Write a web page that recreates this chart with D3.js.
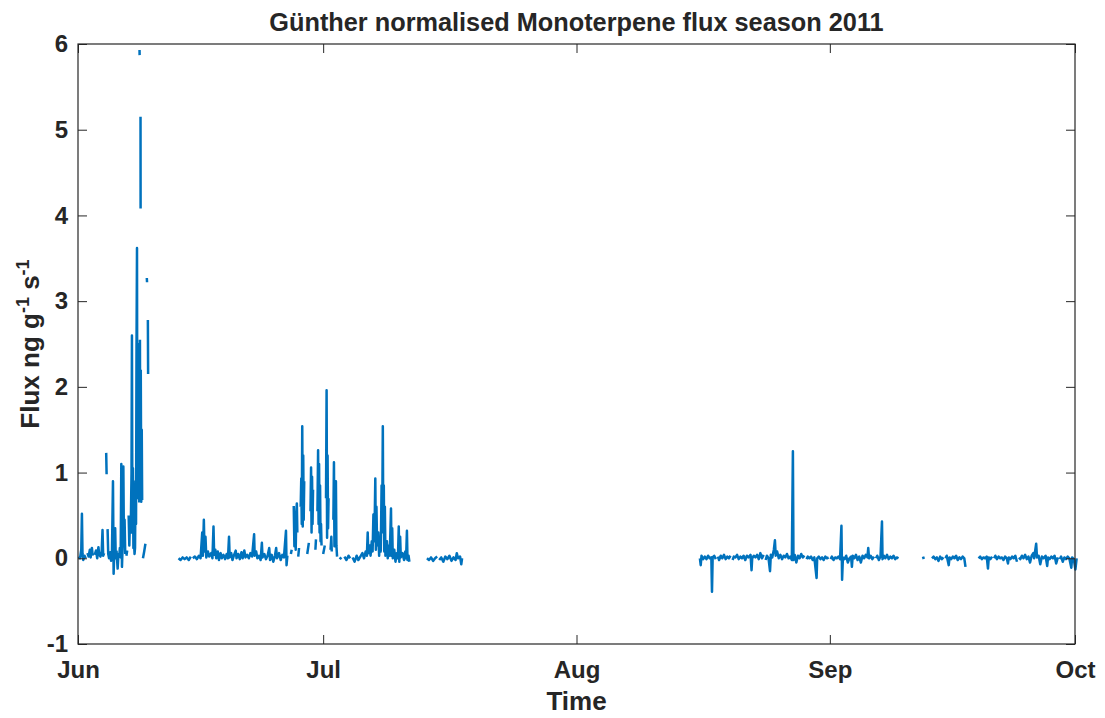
<!DOCTYPE html>
<html>
<head>
<meta charset="utf-8">
<script src="https://cdn.jsdelivr.net/npm/d3@7"></script>
<style>
  html, body { margin: 0; padding: 0; background: #ffffff; }
  svg { display: block; }
  text { font-family: "Liberation Sans", Arial, Helvetica, sans-serif; font-weight: bold; fill: #262626; }
</style>
</head>
<body>
<svg id="chart" width="1105" height="718"></svg>
<script>
// Günther-normalised monoterpene flux, season 2011.
// Each entry is [days since 1 June 2011, flux in ng g^-1 s^-1]; null flux marks a data gap.
const earlyJune = [
  [0.10,0.02],[0.25,0.00],[0.40,0.10],[0.48,0.52],[0.55,0.05],[0.65,-0.02],[0.80,0.03],[0.95,0.00],[1.05,null],
  [1.15,0.06],[1.30,0.02],[1.45,0.10],[1.55,0.01],[1.70,0.12],[1.80,0.03],[1.95,null],
  [2.05,0.04],[2.20,0.09],[2.35,0.00],[2.50,0.13],[2.60,0.04],[2.75,0.02],[2.90,0.08],[3.00,0.33],[3.08,0.03],[3.20,0.06],[3.30,null],
  [3.45,1.23],[3.50,0.98],[3.55,null],
  [3.62,0.34],[3.70,0.05],[3.80,0.00],[3.95,0.07],[4.05,-0.03],[4.15,0.04],[4.28,0.90],[4.36,-0.18],[4.45,0.12],[4.55,0.35],
  [4.62,0.00],[4.72,0.08],[4.85,-0.12],[4.95,0.05],[5.05,0.02],[5.12,0.12],[5.22,0.01],[5.30,1.10],[5.38,-0.10],[5.48,0.20],
  [5.55,1.07],[5.62,0.15],[5.70,0.45],[5.78,0.05],[5.85,null],
  [5.92,0.03],[6.02,0.09],[6.10,null],
  [6.20,0.50],[6.28,0.15],[6.36,0.45],[6.45,0.30],[6.55,1.00],[6.60,2.60],[6.66,0.30],[6.72,1.05],[6.78,0.12],[6.85,0.20],
  [6.92,0.05],[6.98,0.12],[7.04,0.90],[7.10,0.40],[7.16,2.45],[7.22,3.62],[7.26,0.95],[7.32,2.50],[7.38,0.70],[7.44,2.40],
  [7.50,0.65],[7.52,null],[7.53,5.93],[7.54,5.87],[7.55,null],[7.58,2.55],[7.62,0.70],[7.64,null],[7.65,5.15],[7.66,4.08],[7.67,null],
  [7.68,2.20],[7.74,0.66],[7.80,1.50],[7.85,0.68],[7.88,null],
  [7.95,0.00],[8.10,0.08],[8.25,0.17],[8.30,null],
  [8.42,3.27],[8.45,3.22],[8.47,null],
  [8.55,2.78],[8.58,2.15]
];

const lateJuneJuly = [
  [12.30,0.00],[12.55,-0.02],[12.80,0.01],[13.05,-0.01],[13.30,0.01],[13.55,-0.02],[13.80,0.02],[13.95,null],
  [14.05,0.00],[14.30,0.02],[14.55,-0.01],[14.80,0.03],[15.00,0.00],[15.20,0.30],[15.28,0.03],[15.40,0.45],[15.48,0.08],[15.60,0.25],
  [15.70,0.01],[15.90,0.08],[16.05,0.02],[16.30,0.06],[16.45,0.00],[16.58,0.37],[16.66,0.04],[16.80,0.10],[16.92,0.00],[17.10,0.08],
  [17.25,-0.02],[17.45,0.06],[17.60,0.00],[17.80,0.04],[18.00,-0.01],[18.20,0.05],[18.35,0.00],[18.48,0.25],[18.56,0.01],[18.75,0.06],
  [18.90,-0.02],[19.10,0.04],[19.30,0.09],[19.40,0.00],[19.60,0.05],[19.80,-0.01],[20.00,0.07],[20.15,0.00],[20.35,0.09],[20.50,0.01],
  [20.70,0.04],[20.90,0.00],[21.10,0.06],[21.30,0.02],[21.55,0.28],[21.62,0.03],[21.80,0.08],[21.95,0.00],[22.15,0.03],[22.35,-0.02],
  [22.50,0.18],[22.58,0.01],[22.80,0.05],[23.00,-0.01],[23.20,0.03],[23.40,0.12],[23.50,-0.02],[23.70,0.04],[23.90,-0.04],[24.10,0.03],
  [24.25,0.12],[24.35,0.00],[24.60,0.06],[24.80,-0.02],[25.00,0.04],[25.20,0.01],[25.45,0.32],[25.52,-0.08],[25.62,0.03],[25.75,null],
  [26.05,0.05],[26.15,0.10],[26.20,null],
  [26.40,0.61],[26.48,0.14],[26.56,0.40],[26.64,0.10],[26.72,0.55],[26.78,0.64],[26.84,0.30],[26.90,null],
  [26.95,0.02],[27.05,0.12],[27.10,null],
  [27.25,0.60],[27.32,0.93],[27.38,0.40],[27.44,1.54],[27.50,0.37],[27.56,1.20],[27.62,0.45],[27.68,0.90],[27.74,null],
  [28.05,0.05],[28.25,0.18],[28.30,null],
  [28.45,0.55],[28.52,1.06],[28.58,0.30],[28.64,0.95],[28.70,0.40],[28.76,0.80],[28.82,null],
  [29.05,0.10],[29.12,0.22],[29.16,null],
  [29.30,0.55],[29.38,1.26],[29.44,0.40],[29.50,1.10],[29.56,0.30],[29.62,0.85],[29.68,0.20],[29.74,0.40],[29.80,0.15],[29.86,null],
  [30.00,0.05],[30.20,0.15],[30.25,null],
  [30.35,0.70],[30.42,1.96],[30.48,0.24],[30.54,1.20],[30.60,0.35],[30.66,0.70],[30.72,null],
  [30.90,0.10],[31.00,0.25],[31.05,0.08],[31.10,null],
  [31.25,0.45],[31.32,1.12],[31.38,0.14],[31.44,0.55],[31.50,0.20],[31.56,0.90],[31.62,0.15],[31.70,0.02],[31.80,null],
  [32.00,0.01],[32.25,-0.01],[32.40,null],[32.60,0.02],[32.85,-0.02],[33.10,0.03],[33.30,0.00],[33.40,null],[33.60,0.01],[33.85,-0.04],
  [34.10,0.03],[34.30,-0.02],[34.55,0.02],[34.80,0.06],[35.00,0.00],[35.20,0.08],[35.35,0.03],[35.45,0.30],[35.52,0.06],[35.70,0.15],
  [35.80,0.03],[35.95,0.20],[36.05,0.08],[36.15,0.51],[36.22,0.20],[36.30,0.40],[36.38,0.93],[36.45,0.10],[36.52,0.60],[36.60,0.15],
  [36.75,0.30],[36.85,0.03],[36.95,0.25],[37.05,0.08],[37.15,0.85],[37.22,0.35],[37.30,1.54],[37.36,0.30],[37.42,0.85],[37.48,0.08],
  [37.55,0.60],[37.62,0.03],[37.80,0.20],[37.90,0.00],[38.05,0.15],[38.15,0.03],[38.30,0.58],[38.36,0.03],[38.45,0.35],[38.52,0.00],
  [38.70,0.10],[38.85,-0.04],[39.00,0.06],[39.15,0.00],[39.25,0.37],[39.32,-0.04],[39.42,0.25],[39.50,0.01],[39.70,0.06],[39.90,-0.02],
  [40.05,0.08],[40.15,0.00],[40.25,0.32],[40.32,-0.02],[40.45,0.03],[40.55,-0.04],[40.60,null],
  [42.70,0.00],[42.95,-0.02],[43.20,0.01],[43.45,-0.03],[43.70,0.00],[43.95,0.02],[44.10,null],
  [44.20,-0.02],[44.45,0.01],[44.70,-0.04],[44.95,0.02],[45.20,-0.01],[45.45,0.03],[45.70,-0.03],[45.95,0.01],[46.20,-0.02],[46.35,0.06],
  [46.50,0.00],[46.75,0.02],[46.90,-0.07],[47.00,0.00]
];

const lateAugSep = [
  [76.10,0.00],[76.20,-0.08],[76.30,0.03],[76.50,-0.01],[76.70,0.02],[76.90,-0.01],[77.10,0.03],[77.30,0.00],[77.50,0.01],[77.58,-0.39],
  [77.66,0.01],[77.85,0.03],[78.05,-0.01],[78.20,null],
  [78.30,0.02],[78.45,-0.02],[78.65,0.03],[78.85,0.00],[79.05,0.04],[79.25,-0.01],[79.45,0.02],[79.65,0.00],[79.85,0.03],[80.00,null],
  [80.10,-0.02],[80.25,0.02],[80.45,0.01],[80.65,0.04],[80.85,-0.01],[81.05,0.02],[81.25,0.00],[81.45,0.03],[81.65,-0.02],[81.85,0.03],
  [82.05,0.01],[82.30,0.04],[82.42,-0.14],[82.50,0.00],[82.70,0.03],[82.90,0.01],[83.10,0.04],[83.30,-0.01],[83.50,0.06],[83.70,0.00],
  [83.90,0.04],[84.05,null],
  [84.15,-0.02],[84.30,0.03],[84.50,0.00],[84.68,-0.15],[84.78,0.04],[84.95,0.01],[85.15,0.10],[85.28,0.21],[85.38,0.03],[85.55,0.08],
  [85.75,0.00],[85.95,0.04],[86.15,-0.01],[86.35,0.03],[86.55,0.01],[86.75,0.05],[86.95,0.00],[87.15,0.02],[87.35,-0.02],[87.48,1.25],
  [87.55,-0.02],[87.70,0.04],[87.90,-0.05],[88.10,0.03],[88.30,0.00],[88.50,0.05],[88.70,0.01],[88.90,0.03],[89.05,null],
  [89.15,-0.01],[89.30,0.02],[89.50,0.00],[89.70,0.02],[89.90,-0.02],[90.10,0.01],[90.38,-0.23],[90.45,0.00],[90.65,0.02],[90.85,-0.01],
  [91.05,0.01],[91.25,-0.02],[91.45,0.02],[91.65,0.00],[91.85,0.01],[92.00,null],
  [92.10,-0.01],[92.25,0.02],[92.45,-0.02],[92.65,0.01],[92.85,0.00],[93.05,0.02],[93.25,-0.01],[93.42,0.38],[93.50,-0.25],[93.60,0.01],
  [93.80,-0.01],[94.00,0.03],[94.20,-0.05],[94.40,0.00],[94.60,0.02],[94.70,-0.10],[94.80,0.03],[95.00,0.00],[95.20,0.04],[95.40,-0.02],
  [95.60,0.02],[95.80,-0.05],[96.00,0.03],[96.20,0.00],[96.40,0.04],[96.60,0.01],[96.70,0.12],[96.80,0.00],[97.00,0.03],[97.20,-0.01],
  [97.40,0.02],[97.55,null],
  [97.65,0.00],[97.80,0.03],[98.00,-0.02],[98.20,0.02],[98.38,0.43],[98.45,-0.01],[98.60,0.03],[98.80,0.00],[99.00,0.04],[99.20,-0.01],
  [99.40,0.02],[99.60,0.00],[99.80,0.03],[100.00,-0.01],[100.20,0.01],[100.40,0.00],[100.45,null],
  [103.30,0.00],[103.60,0.01],[103.65,null],
  [104.50,0.00],[104.70,0.02],[104.90,-0.01],[105.10,0.01],[105.30,-0.03],[105.50,0.02],[105.70,-0.01],[105.90,0.01],[106.05,null],
  [106.15,0.00],[106.30,0.03],[106.55,-0.08],[106.65,0.01],[106.85,-0.01],[107.05,0.02],[107.25,0.00],[107.45,0.03],[107.65,-0.02],
  [107.85,0.01],[108.05,-0.01],[108.25,0.02],[108.45,0.00],[108.60,-0.10],[108.65,null],
  [110.20,0.00],[110.40,0.02],[110.60,-0.01],[110.80,0.01],[111.00,0.00],[111.20,0.02],[111.35,-0.12],[111.45,0.01],[111.65,-0.01],
  [111.85,0.02],[112.00,null],
  [112.10,0.00],[112.25,0.03],[112.45,-0.01],[112.65,0.02],[112.85,0.00],[113.05,0.01],[113.25,-0.02],[113.45,0.02],[113.65,0.00],
  [113.80,-0.06],[113.90,0.01],[114.10,-0.01],[114.30,0.02],[114.50,0.00],[114.70,0.03],[114.90,-0.04],[115.05,null],
  [115.15,0.01],[115.30,-0.01],[115.50,0.03],[115.70,0.00],[115.90,0.04],[116.10,-0.01],[116.30,0.02],[116.50,-0.05],[116.70,0.03],
  [116.90,0.06],[117.00,0.00],[117.25,0.17],[117.35,0.01],[117.55,0.03],[117.75,-0.07],[117.95,0.02],[118.15,0.00],[118.40,0.03],
  [118.60,-0.09],[118.70,0.01],[118.90,-0.01],[119.10,0.02],[119.30,0.00],[119.50,0.03],[119.70,-0.06],[119.90,0.01],[120.05,null],
  [120.15,-0.01],[120.30,0.02],[120.50,-0.04],[120.70,0.01],[120.90,-0.01],[121.10,0.02],[121.30,0.00],[121.55,-0.11],[121.65,0.01],
  [121.85,-0.01],[122.05,-0.13],[122.20,0.00]
];

const monthTicks = ["2011-06-01", "2011-07-01", "2011-08-01", "2011-09-01", "2011-10-01"];
const fluxTicks = [-1, 0, 1, 2, 3, 4, 5, 6];

const titleText = "Günther normalised Monoterpene flux season 2011";
const xLabel = "Time";

// ---- layout ----
const svg = d3.select("#chart");
const box = { left: 78, top: 44, right: 1075, bottom: 644 };
const seasonStart = Date.UTC(2011, 5, 1);
const dayMs = 864e5;

const x = d3.scaleUtc()
  .domain([new Date(seasonStart), new Date(Date.UTC(2011, 9, 1))])
  .range([box.left, box.right]);
const y = d3.scaleLinear().domain([-1, 6]).range([box.bottom, box.top]);

const axisColor = "#262626";
const tickLen = 9;
const tickFont = "24px";
const monthDates = monthTicks.map(s => new Date(s + "T00:00:00Z"));

// ---- flux trace ----
const line = d3.line()
  .defined(d => d[1] !== null)
  .x(d => x(new Date(seasonStart + d[0] * dayMs)))
  .y(d => y(d[1]));

const plot = svg.append("g");
[earlyJune, lateJuneJuly, lateAugSep].forEach(series => {
  plot.append("path")
    .datum(series)
    .attr("d", line)
    .attr("fill", "none")
    .attr("stroke", "#0072BD")
    .attr("stroke-width", 2.5)
    .attr("stroke-linejoin", "round")
    .attr("stroke-linecap", "butt");
});

// ---- axes (ticks point inward, box on all four sides) ----
function styleAxis(g, showLabels) {
  g.select(".domain").remove();
  g.attr("font-family", null).attr("font-size", null);
  g.selectAll(".tick line").attr("stroke", axisColor).attr("stroke-width", 1);
  g.selectAll(".tick text")
    .attr("fill", axisColor)
    .style("font-size", tickFont)
    .style("display", showLabels ? null : "none");
}

svg.append("g")
  .attr("transform", `translate(0,${box.bottom})`)
  .call(d3.axisBottom(x).tickValues(monthDates).tickFormat(d3.utcFormat("%b"))
    .tickSizeInner(-tickLen).tickSizeOuter(0).tickPadding(17))
  .call(g => styleAxis(g, true));

svg.append("g")
  .attr("transform", `translate(0,${box.top})`)
  .call(d3.axisTop(x).tickValues(monthDates).tickFormat("").tickSizeInner(-tickLen).tickSizeOuter(0))
  .call(g => styleAxis(g, false));

svg.append("g")
  .attr("transform", `translate(${box.left},0)`)
  .call(d3.axisLeft(y).tickValues(fluxTicks).tickFormat(d => String(d))
    .tickSizeInner(-tickLen).tickSizeOuter(0).tickPadding(10))
  .call(g => styleAxis(g, true));

svg.append("g")
  .attr("transform", `translate(${box.right},0)`)
  .call(d3.axisRight(y).tickValues(fluxTicks).tickFormat("").tickSizeInner(-tickLen).tickSizeOuter(0))
  .call(g => styleAxis(g, false));

// plot frame
svg.append("rect")
  .attr("x", box.left).attr("y", box.top)
  .attr("width", box.right - box.left).attr("height", box.bottom - box.top)
  .attr("fill", "none").attr("stroke", axisColor).attr("stroke-width", 1.2);

// ---- titles ----
svg.append("text")
  .attr("x", (box.left + box.right) / 2).attr("y", 31)
  .attr("text-anchor", "middle")
  .style("font-size", "25.3px")
  .text(titleText);

svg.append("text")
  .attr("x", (box.left + box.right) / 2).attr("y", 710)
  .attr("text-anchor", "middle")
  .style("font-size", "26px")
  .text(xLabel);

const yl = svg.append("text")
  .attr("transform", `translate(39,${(box.top + box.bottom) / 2}) rotate(-90)`)
  .attr("text-anchor", "middle")
  .style("font-size", "26px");
yl.append("tspan").text("Flux ng g");
yl.append("tspan").attr("dy", -10).style("font-size", "18px").text("-1");
yl.append("tspan").attr("dy", 10).text(" s");
yl.append("tspan").attr("dy", -10).style("font-size", "18px").text("-1");
</script>
</body>
</html>
